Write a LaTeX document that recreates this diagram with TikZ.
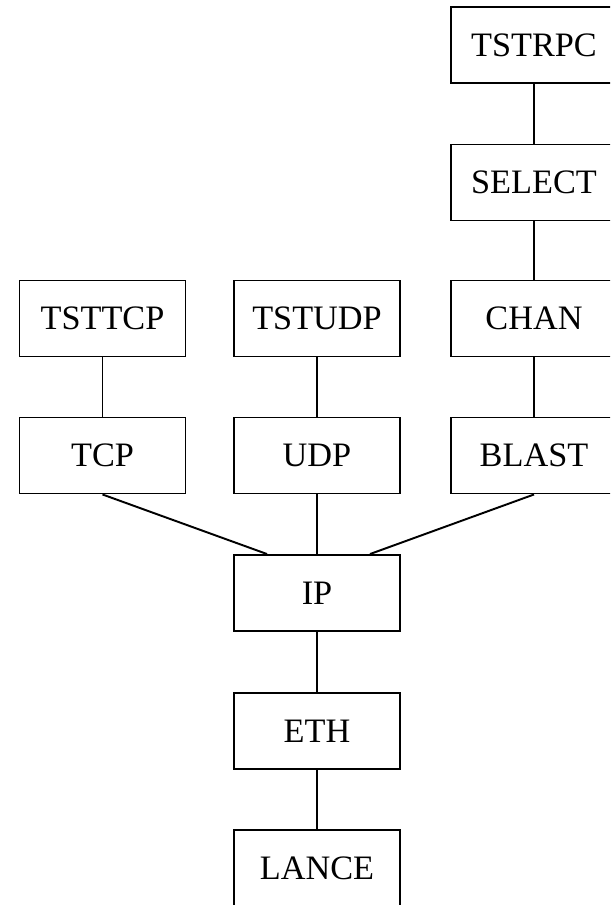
\documentclass[tikz,border=0pt]{standalone}
\usepackage{fontspec}
\setmainfont{Liberation Serif}
\usepackage{tikz}

\tikzset{layer/.style={draw,line width=1.1pt,minimum width=3.32cm,minimum height=1.52cm,inner sep=0pt,font=\fontsize{19.5}{23}\selectfont},
link/.style={line width=1.1pt}}

\begin{document}
\begin{tikzpicture}

\path[use as bounding box,clip] (0,0) rectangle (12.2,-18.1);

\node[layer] (tstrpc) at (10.68,-0.90) {TSTRPC};
\node[layer] (select) at (10.68,-3.65) {SELECT};
\node[layer] (chan) at (10.68,-6.37) {CHAN};
\node[layer] (blast) at (10.68,-9.11) {BLAST};

\node[layer] (tsttcp) at (2.05,-6.37) {TSTTCP};\node[layer] (tstudp) at (6.34,-6.37) {TSTUDP};
\node[layer] (tcp) at (2.05,-9.11) {TCP};\node[layer] (udp) at (6.34,-9.11) {UDP};

\node[layer] (ip) at (6.34,-11.86) {IP};
\node[layer] (eth) at (6.34,-14.62) {ETH};
\node[layer] (lance) at (6.34,-17.36) {LANCE};

%right column
\draw[link] (tstrpc)--(select);\draw[link] (select)--(chan);\draw[link] (chan)--(blast);

%left and middle
\draw[link] (tsttcp)--(tcp);\draw[link] (tstudp)--(udp);

%into IP
\draw[link] (tcp.south)--([xshift=-1cm]ip.north);\draw[link] (udp)--(ip);\draw[link] (blast.south)--([xshift=1.06cm]ip.north);

\draw[link] (ip)--(eth);\draw[link] (eth)--(lance);

\end{tikzpicture}
\end{document}
